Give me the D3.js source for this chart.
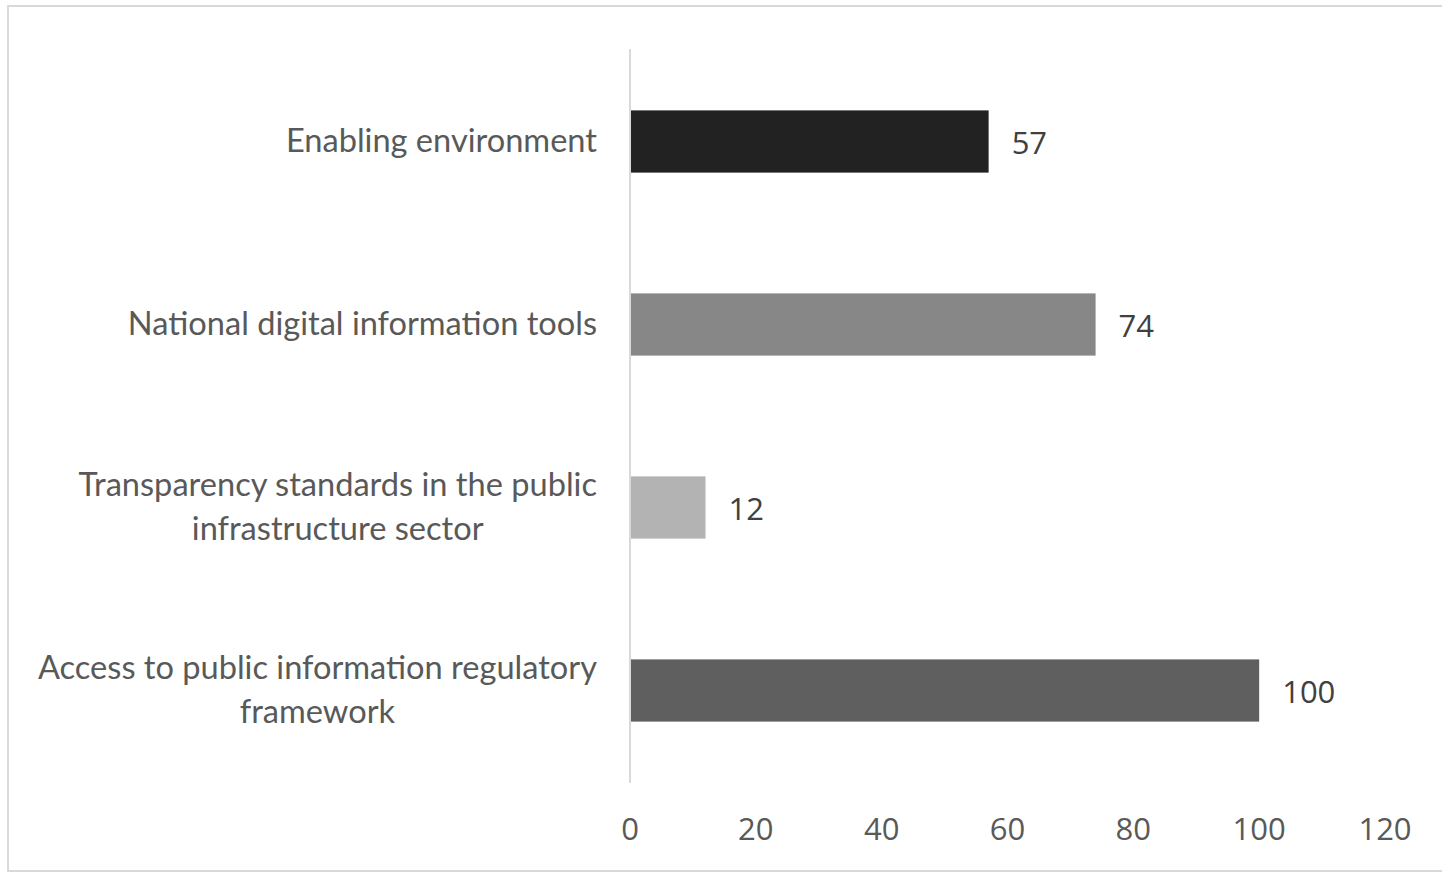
<!DOCTYPE html>
<html>
<head>
<meta charset="utf-8">
<script src="https://cdn.jsdelivr.net/npm/d3@7"></script>
<style>
  body { margin: 0; background: #fff; }
  svg { display: block; }
  .cat-label { font-family: Lato, "Open Sans", sans-serif; font-size: 32.6px; fill: #595959; }
  .tick-label { font-family: "Open Sans", "Liberation Sans", sans-serif; font-size: 31px; fill: #595959; }
  .value-label { font-family: "Open Sans", "Liberation Sans", sans-serif; font-size: 31px; fill: #404040; }
</style>
</head>
<body>
<div id="wrapper"></div>
<script>
// data
let categories = [
    ['Enabling environment'],
    ['National digital information tools'],
    ['Transparency standards in the public', 'infrastructure sector'],
    ['Access to public information regulatory', 'framework']
];
let values = [57, 74, 12, 100];
let barColors = ['#222222', '#878787', '#b3b3b3', '#5f5f5f'];
let tickValues = [0, 20, 40, 60, 80, 100, 120];

let width = 1442, height = 873;

let svg = d3.select('#wrapper').append('svg')
    .attr('width', width)
    .attr('height', height);

// light frame round the chart area
svg.append('rect')
    .attr('x', 8).attr('y', 6)
    .attr('width', 1450).attr('height', 865)
    .attr('fill', 'none')
    .attr('stroke', '#d9d9d9')
    .attr('stroke-width', 2);

let keys = categories.map(d => d.join(' '));

let xScale = d3.scaleLinear().domain([0, 120]).range([630, 1385]);
let yScale = d3.scaleBand().domain(keys).range([50, 782])
    .paddingInner(0.66).paddingOuter(0.33);

let rows = keys.map((k, i) => ({key: k, lines: categories[i], value: values[i], color: barColors[i]}));

// bars
svg.selectAll('.bar').data(rows).enter().append('rect')
    .classed('bar', true)
    .attr('x', xScale(0))
    .attr('y', d => yScale(d.key))
    .attr('width', d => xScale(d.value) - xScale(0))
    .attr('height', yScale.bandwidth())
    .attr('fill', d => d.color);

// vertical axis line
svg.append('line')
    .attr('x1', xScale(0)).attr('x2', xScale(0))
    .attr('y1', 49).attr('y2', 783)
    .attr('stroke', '#d9d9d9')
    .attr('stroke-width', 2);

// value labels
svg.selectAll('.value-label').data(rows).enter().append('text')
    .classed('value-label', true)
    .attr('x', d => xScale(d.value) + 23)
    .attr('y', d => yScale(d.key) + yScale.bandwidth() / 2 + 12)
    .text(d => d.value);

// category labels, lines centred to each other, block right aligned
let lineGap = 44;
let labelRight = xScale(0) - 33;
let labelGroups = svg.selectAll('.cat').data(rows).enter().append('text')
    .classed('cat-label', true);

labelGroups.each(function(d) {
    let t = d3.select(this);
    let mid = yScale(d.key) + yScale.bandwidth() / 2;
    let top = mid - (d.lines.length - 1) * lineGap / 2;
    let spans = d.lines.map((line, j) => t.append('tspan')
        .attr('y', top + j * lineGap + 10)
        .text(line));
    let widths = spans.map(s => s.node().getComputedTextLength());
    let maxW = d3.max(widths);
    let centre = labelRight - maxW / 2;
    spans.forEach(s => s.attr('x', centre).attr('text-anchor', 'middle'));
});

// x axis tick labels
svg.selectAll('.tick-label').data(tickValues).enter().append('text')
    .classed('tick-label', true)
    .attr('x', d => xScale(d))
    .attr('y', 840)
    .attr('text-anchor', 'middle')
    .text(d => d);
</script>
</body>
</html>
